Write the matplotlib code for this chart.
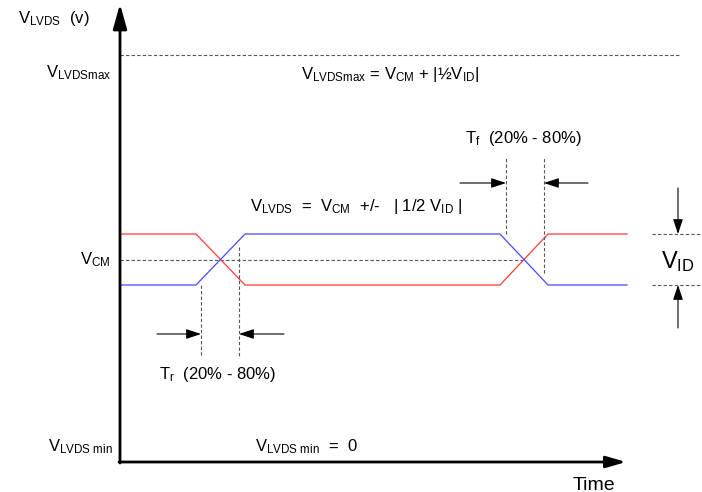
import matplotlib
matplotlib.use("Agg")
import matplotlib.pyplot as plt

plt.rcParams.update({
    "font.family": "Liberation Sans",
    "mathtext.fontset": "custom",
    "mathtext.rm": "Liberation Sans",
    "mathtext.it": "Liberation Sans",
})

RED = "#ff3a3a"
BLUE = "#4848ff"
DASH = "#555555"

# schematic units: time and voltage (origin at the axes corner)
t_edges = [0, 76, 125, 380, 428, 507]
v_pos = [228, 228, 177, 177, 228, 228]
v_neg = [177, 177, 228, 228, 177, 177]
v_max = 407
v_cm = 202
v_high = 228
v_low = 177
t_rise = [81, 119]      # 20% / 80% marks on the rising edge
t_fall = [386, 424]     # 20% / 80% marks on the falling edge

fig = plt.figure(figsize=(7.02, 4.92), dpi=100)
ax = fig.add_axes([0, 0, 1, 1])
ax.set_xlim(-120, 582)
ax.set_ylim(-30, 462)
ax.axis("off")

dash = dict(color=DASH, lw=0.8, ls=(0, (3, 2)))
arr = dict(arrowstyle="-|>,head_length=0.9,head_width=0.3", color="black",
           lw=0.8, shrinkA=0, shrinkB=0)

# axes with arrow heads
ax.annotate("", xy=(0, 458), xytext=(0, -1),
            arrowprops=dict(arrowstyle="-|>,head_length=1.5,head_width=0.42",
                            color="black", lw=2, shrinkA=0, shrinkB=0))
ax.annotate("", xy=(506, 0), xytext=(-1, 0),
            arrowprops=dict(arrowstyle="-|>,head_length=1.2,head_width=0.35",
                            color="black", lw=2, shrinkA=0, shrinkB=0))

# reference levels
ax.plot([0, 560], [v_max, v_max], **dash)
ax.plot([0, t_edges[4] - 23], [v_cm, v_cm], **dash)

# differential signals
ax.plot(t_edges, v_pos, color=RED, lw=0.9)
ax.plot(t_edges, v_neg, color=BLUE, lw=0.9)

# rise time markers
ax.plot([t_rise[0], t_rise[0]], [v_low, 105], **dash)
ax.plot([t_rise[1], t_rise[1]], [215, 105], **dash)
ax.annotate("", xy=(t_rise[0], 128), xytext=(37, 128), arrowprops=arr)
ax.annotate("", xy=(t_rise[1], 128), xytext=(164, 128), arrowprops=arr)
ax.text(98, 88, r"$\mathrm{T_r}$  (20% - 80%)", ha="center", va="center", fontsize=12)

# fall time markers
ax.plot([t_fall[0], t_fall[0]], [v_high, 305], **dash)
ax.plot([t_fall[1], t_fall[1]], [189, 305], **dash)
ax.annotate("", xy=(t_fall[0], 279), xytext=(340, 279), arrowprops=arr)
ax.annotate("", xy=(t_fall[1], 279), xytext=(468, 279), arrowprops=arr)
ax.text(403, 324, r"$\mathrm{T_f}$  (20% - 80%)", ha="center", va="center", fontsize=12)

# V_ID markers
ax.plot([532, 582], [v_high, v_high], **dash)
ax.plot([532, 582], [v_low, v_low], **dash)
ax.annotate("", xy=(558, v_high), xytext=(558, 274), arrowprops=arr)
ax.annotate("", xy=(558, v_low), xytext=(558, 134), arrowprops=arr)
ax.text(541, 200, r"$\mathrm{V_{ID}}$", ha="left", va="center", fontsize=17)

# labels
ax.text(-102, 444, r"$\mathrm{V_{LVDS}}$  (v)", ha="left", va="center", fontsize=12)
ax.text(-8, 389, r"$\mathrm{V_{LVDSmax}}$", ha="right", va="center", fontsize=12)
ax.text(-10, 202, r"$\mathrm{V_{CM}}$", ha="right", va="center", fontsize=12)
ax.text(-7, 15, r"$\mathrm{V_{LVDS\ min}}$", ha="right", va="center", fontsize=12)
ax.text(270, 387, r"$\mathrm{V_{LVDSmax}}$ = $\mathrm{V_{CM}}$ + |½$\mathrm{V_{ID}}$|",
        ha="center", va="center", fontsize=12)
ax.text(130, 255, r"$\mathrm{V_{LVDS}}$  =  $\mathrm{V_{CM}}$  +/-   | 1/2 $\mathrm{V_{ID}}$ |",
        ha="left", va="center", fontsize=12)
ax.text(135, 15, r"$\mathrm{V_{LVDS\ min}}$  =  0", ha="left", va="center", fontsize=12)
ax.text(474, -23, "Time", ha="center", va="center", fontsize=14)

fig.savefig("out.png", dpi=100)
